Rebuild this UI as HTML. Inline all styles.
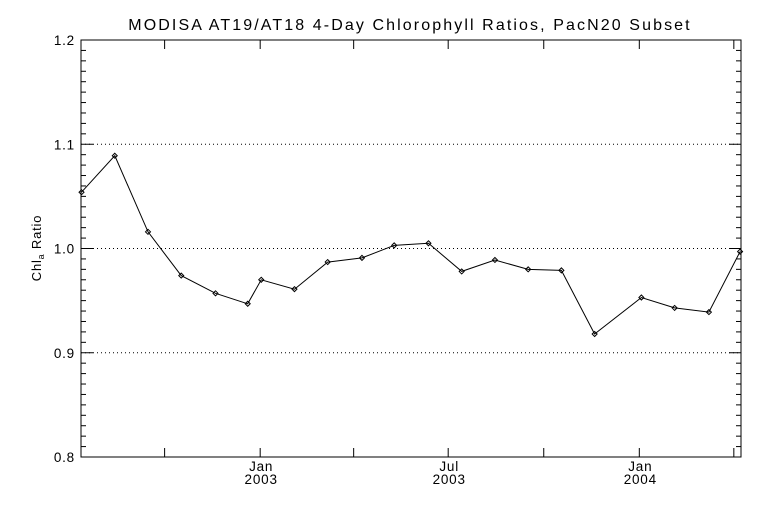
<!DOCTYPE html>
<html><head><meta charset="utf-8"><style>
html,body{margin:0;padding:0;background:#fff;}
svg text{font-family:"Liberation Sans","DejaVu Sans",sans-serif;fill:#000;}
</style></head><body>
<svg id="chart" width="768" height="512" viewBox="0 0 768 512" xmlns="http://www.w3.org/2000/svg">
<rect width="768" height="512" fill="#fff"/>
<text x="410" y="30" font-size="16" text-anchor="middle" letter-spacing="2.1">MODISA AT19/AT18 4-Day Chlorophyll Ratios, PacN20 Subset</text>
<text transform="translate(41,248) rotate(-90)" font-size="13" letter-spacing="0.8" text-anchor="middle">Chl<tspan font-size="9" dy="3">a</tspan><tspan dy="-3"> Ratio</tspan></text>
<g id="grid"></g><g id="axes"></g><g id="series"></g>
</svg>
<script>
// data: day offsets from 2003-01-01 and ratio values
const dayOffsets=[-172,-140,-108,-76,-43,-12,1,33,65,98,129,162,194,226,258,290,322,367,399,432,462];
const ratios=[1.054,1.089,1.016,0.974,0.957,0.947,0.970,0.961,0.987,0.991,1.003,1.005,0.978,0.989,0.980,0.979,0.918,0.953,0.943,0.939,0.997];
const yTicks=[0.8,0.9,1.0,1.1,1.2];
const yTickLabels=["0.8","0.9","1.0","1.1","1.2"];
const gridValues=[0.9,1.0,1.1];
const xTickDays=[-92,0,90,181,273,365,456];
const xLabelDays=[0,181,365];
const xLabelMonths=["Jan","Jul","Jan"];
const xLabelYears=["2003","2003","2004"];

const L=81,R=741,T=40,B=457,xMin=-172.5,xMax=462.9,yMin=0.8,yMax=1.2;
const xs=d=>L+(d-xMin)/(xMax-xMin)*(R-L);
const ys=v=>B-(v-yMin)/(yMax-yMin)*(B-T);
const NS="http://www.w3.org/2000/svg";
function mk(tag,attrs,parent){const e=document.createElementNS(NS,tag);for(const k in attrs)e.setAttribute(k,attrs[k]);parent.appendChild(e);return e;}
const grid=document.getElementById('grid'),axes=document.getElementById('axes'),series=document.getElementById('series');

gridValues.forEach(v=>{
  const g=mk('line',{x1:L,x2:R,y1:ys(v),y2:ys(v),stroke:'#000','stroke-width':1,'stroke-dasharray':'1 3'},grid);
  
  
});
const frame=mk('rect',{x:L,y:T,width:R-L,height:B-T,fill:'none',stroke:'#000','stroke-width':1},axes);


for(let i=0;i<=40;i++){
  const v=yMin+i*0.01,y=ys(v),major=(i%10===0),len=major?12:5;
  const t1=mk('line',{x1:L,x2:L+len,y1:y,y2:y,stroke:'#000'},axes);
  
  
  const t2=mk('line',{x1:R-len,x2:R,y1:y,y2:y,stroke:'#000'},axes);
  
  
}
yTicks.forEach((v,i)=>{
  const t=mk('text',{x:75,y:ys(v)+5,'font-size':13.5,'letter-spacing':'0.8','text-anchor':'end'},axes);
  t.textContent=yTickLabels[i];
  
  
});
xTickDays.forEach(d=>{
  const x=xs(d);
  const t1=mk('line',{x1:x,x2:x,y1:B,y2:B-9,stroke:'#000'},axes);
  
  
  const t2=mk('line',{x1:x,x2:x,y1:T,y2:T+9,stroke:'#000'},axes);
  
  
});
xLabelDays.forEach((d,i)=>{
  const x=xs(d)+1;
  const m=mk('text',{x:x,y:471,'font-size':13.5,'letter-spacing':'0.8','text-anchor':'middle'},axes);
  m.textContent=xLabelMonths[i];
  
  
  const yr=mk('text',{x:x,y:484,'font-size':13.5,'letter-spacing':'0.8','text-anchor':'middle'},axes);
  yr.textContent=xLabelYears[i];
  
  
});
const pts=dayOffsets.map((d,i)=>xs(d).toFixed(1)+','+ys(ratios[i]).toFixed(1)).join(' ');
const line=mk('polyline',{points:pts,fill:'none',stroke:'#000','stroke-width':1},series);


dayOffsets.forEach((d,i)=>{
  const x=xs(d),y=ys(ratios[i]);
  const p=mk('polygon',{points:`${x},${y-2.5} ${x+2.5},${y} ${x},${y+2.5} ${x-2.5},${y}`,fill:'none',stroke:'#000','stroke-width':1},series);
  
  
});
</script>
</body></html>
